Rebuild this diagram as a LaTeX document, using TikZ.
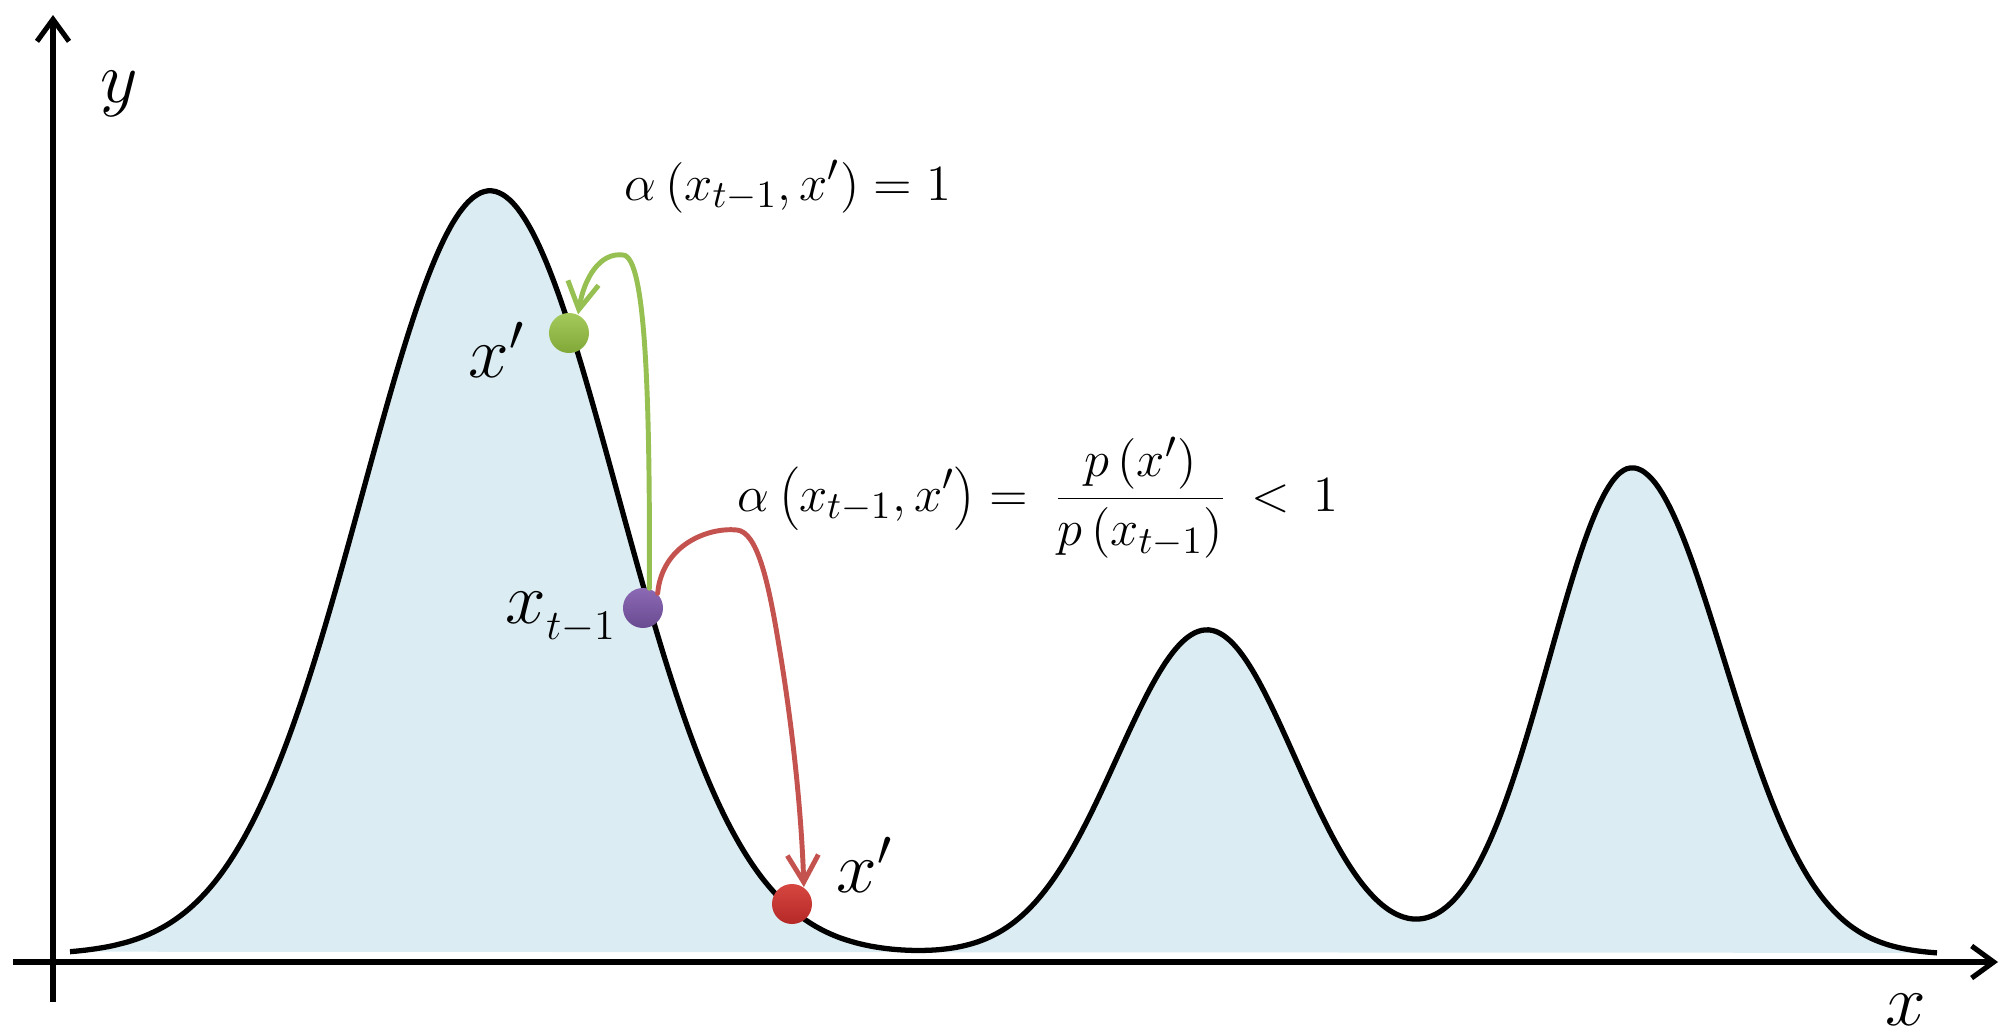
\documentclass[tikz,border=0pt]{standalone}
\usepackage{fontspec}
\usetikzlibrary{arrows.meta}
\definecolor{fillblue}{RGB}{219,237,243}
\definecolor{agreen}{RGB}{150,192,82}
\definecolor{ared}{RGB}{196,82,78}
\definecolor{dgreenT}{RGB}{165,202,92}
\definecolor{dgreenB}{RGB}{128,168,55}
\definecolor{dpurpT}{RGB}{140,105,180}
\definecolor{dpurpB}{RGB}{105,75,145}
\definecolor{dredT}{RGB}{215,70,65}
\definecolor{dredB}{RGB}{180,40,38}
\tikzset{
  axisline/.style={line width=1.45pt, -{Straight Barb[length=0.22cm,width=0.32cm]}},
  curveline/.style={line width=1.5pt, line join=round, fill=fillblue},
  garrow/.style={line width=1.4pt, draw=agreen, line cap=round, -{Straight Barb[length=0.27cm,width=0.31cm]}},
  rarrow/.style={line width=1.4pt, draw=ared, line cap=round, -{Straight Barb[length=0.27cm,width=0.31cm]}},
  dot/.style={circle, draw=none, minimum size=0.40cm, inner sep=0pt},
  fm/.style={inner sep=0pt, font=\fontsize{15}{18}\selectfont},
  lab/.style={inner sep=0pt, font=\fontsize{21}{24}\selectfont},
  declare function={
    gs(\u,\m,\s)=exp(-min(9,((\u-\m)/\s)*((\u-\m)/\s)/2));
    dens(\u)=764*gs(\u,490,127)+325*gs(\u,1207,ifthenelse(\u<1207,90,88))+487*gs(\u,1632,ifthenelse(\u<1632,83,92));
  }
}
\begin{document}
\begin{tikzpicture}[x=0.01cm,y=-0.01cm]
\useasboundingbox (0,0) rectangle (2002,1036);
\fill[white] (0,0) rectangle (2002,1036);
% density curve
\draw[curveline] plot[domain=70:1937, samples=260, smooth] (\x,{955-dens(\x)});
% axes
\coordinate (yb) at (53,1002);
\coordinate (yt) at (53,15);
\coordinate (xl) at (13,962);
\coordinate (xr) at (1998,962);
\draw[axisline] (yb) -- (yt);
\draw[axisline] (xl) -- (xr);
\node[lab, anchor=base west] (ly) at (100,102) {$y$};
\node[lab, anchor=base west] (lx) at (1885,1025) {$x$};
% points
\node[dot, top color=dgreenT, bottom color=dgreenB] (g) at (569,333) {};
\node[dot, top color=dpurpT, bottom color=dpurpB] (p) at (643,608) {};
\node[dot, top color=dredT, bottom color=dredB] (r) at (792,904) {};
% arrows
\draw[garrow] (p.72) .. controls (650,400) and (646,256) .. (623,255)
  .. controls (600,252) and (584,278) .. (g.64);
\draw[rarrow] (p.45) .. controls (662,545) and (708,527) .. (737,530)
  .. controls (757,532) and (768,580) .. (778,640)
  .. controls (790,710) and (801,800) .. (r.55);
% labels
\node[lab, anchor=base west] (lg) at (468,377) {$x'$};
\node[lab, anchor=base west] (lp) at (505,623) {$x$\raisebox{-4.8pt}{\fontsize{12.5}{13}\selectfont$t\mathord{-}1$}};
\node[lab, anchor=base west] (lr) at (836,892) {$x'$};
% formulas
\node[fm, anchor=base] (f1) at (788,200) {$\alpha\left(x_{t-1},x'\right)=1$};
\node[fm, anchor=base] (f2) at (1038,511) {$\displaystyle\alpha\left(x_{t-1},x'\right)=\mkern4mu\frac{p\left(x'\right)}{p\left(x_{t-1}\right)}\mkern3.5mu<\mkern3.5mu1$};
\end{tikzpicture}
\end{document}
